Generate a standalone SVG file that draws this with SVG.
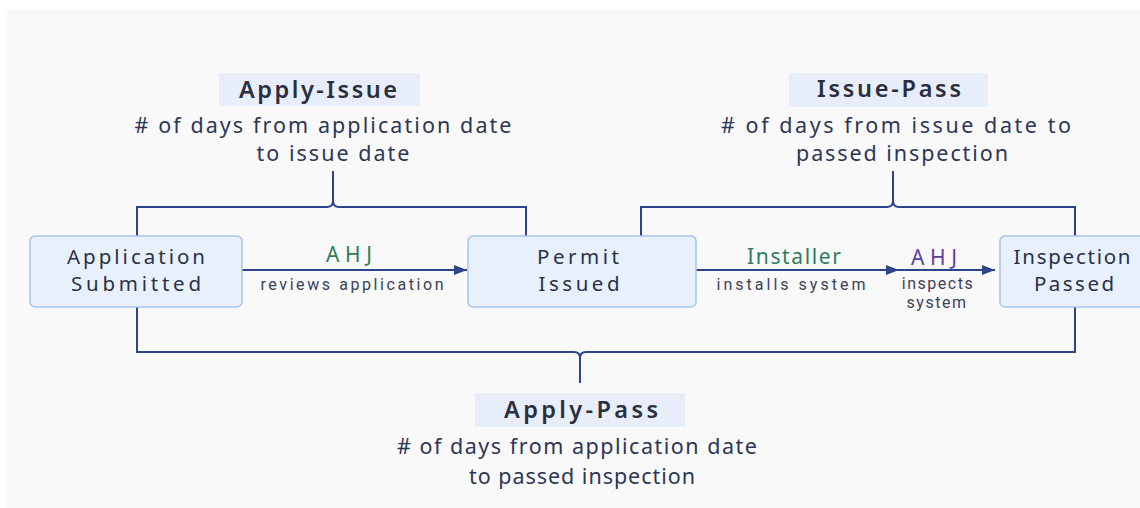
<svg xmlns="http://www.w3.org/2000/svg" width="1140" height="508" viewBox="0 0 1140 508">
<style>
text{font-family:"Noto Sans","Open Sans",sans-serif;fill:#2a3350;text-anchor:middle}
.node rect{fill:#e8f0fb;stroke:#a8c3ec;stroke-width:1.5}
.nt{font-size:20.5px;fill:#283149}
.lbl rect{fill:#e8eef9}
.title{font-size:23.5px;font-weight:600;fill:#2a2f40}
.desc{font-size:21.5px;fill:#2c3656}
.edge{fill:none;stroke:#2c4489;stroke-width:2}
.brace{fill:none;stroke:#2c4489;stroke-width:2}
.green{fill:#2e7d5b;font-size:21px}
.purple{fill:#5a3fa0;font-size:21px}
.sub{font-family:Roboto,"Noto Sans",sans-serif;font-size:16px;fill:#3a4258}
</style>
<defs>
<marker id="arr" markerWidth="13" markerHeight="10" refX="13" refY="5" orient="auto" markerUnits="userSpaceOnUse">
<path d="M0,0 L13,5 L0,10 Z" fill="#2c4489"/>
</marker>
</defs>
<rect x="0" y="0" width="1140" height="508" fill="#ffffff"/>
<rect x="7" y="9" width="1133" height="499" fill="#f9f9fa"/>

<g id="connectors">
<path class="brace" d="M137 236 V207 H327 Q333 207 333 201 V171 M333 201 Q333 207 339 207 H526 V236"/>
<path class="brace" d="M641 236 V207 H887 Q893 207 893 201 V171 M893 201 Q893 207 899 207 H1075 V236"/>
<path class="brace" d="M137 307 V352 H574 Q580 352 580 358 V383 M580 358 Q580 352 586 352 H1075 V307"/>
<line class="edge" x1="242" y1="270" x2="467" y2="270" marker-end="url(#arr)"/>
<line class="edge" x1="696" y1="270" x2="899" y2="270" marker-end="url(#arr)"/>
<line class="edge" x1="899" y1="270" x2="995" y2="270" marker-end="url(#arr)"/>
<text class="green" x="349" y="262" textLength="46" lengthAdjust="spacing">AHJ</text>
<text class="sub" x="352" y="290" textLength="183" lengthAdjust="spacing">reviews application</text>
<text class="green" x="794" y="264" textLength="94" lengthAdjust="spacing">Installer</text>
<text class="sub" x="791" y="290" textLength="149" lengthAdjust="spacing">installs system</text>
<text class="purple" x="934" y="265" textLength="46" lengthAdjust="spacing">AHJ</text>
<text class="sub" style="letter-spacing:1.5px"><tspan x="938" y="289">inspects</tspan><tspan x="937" y="308">system</tspan></text>
</g>

<g id="node-application" class="node">
<rect x="30" y="236" width="212" height="71" rx="5"/>
<text class="nt" x="136" y="264" textLength="138" lengthAdjust="spacing">Application</text>
<text class="nt" x="136" y="291" textLength="130" lengthAdjust="spacing">Submitted</text>
</g>
<g id="node-permit" class="node">
<rect x="468" y="236" width="228" height="71" rx="5"/>
<text class="nt" x="578" y="264" textLength="82" lengthAdjust="spacing">Permit</text>
<text class="nt" x="579" y="291" textLength="81" lengthAdjust="spacing">Issued</text>
</g>
<g id="node-inspection" class="node">
<rect x="1000" y="236" width="150" height="71" rx="5"/>
<text class="nt" x="1072" y="264" textLength="117" lengthAdjust="spacing">Inspection</text>
<text class="nt" x="1074" y="291" textLength="80" lengthAdjust="spacing">Passed</text>
</g>

<g id="label-apply-issue" class="lbl">
<rect x="219" y="73" width="201" height="33"/>
<text class="title" x="318" y="98" textLength="158" lengthAdjust="spacing">Apply-Issue</text>
<text class="desc" x="323" y="133" textLength="377" lengthAdjust="spacing"># of days from application date</text>
<text class="desc" x="333" y="161" textLength="153" lengthAdjust="spacing">to issue date</text>
</g>
<g id="label-issue-pass" class="lbl">
<rect x="789" y="73" width="199" height="34"/>
<text class="title" x="889" y="97" textLength="144" lengthAdjust="spacing">Issue-Pass</text>
<text class="desc" x="896" y="133" textLength="350" lengthAdjust="spacing"># of days from issue date to</text>
<text class="desc" x="902" y="161" textLength="212" lengthAdjust="spacing">passed inspection</text>
</g>
<g id="label-apply-pass" class="lbl">
<rect x="475" y="393" width="210" height="34"/>
<text class="title" x="581" y="418" textLength="154" lengthAdjust="spacing">Apply-Pass</text>
<text class="desc" x="577" y="454" textLength="360" lengthAdjust="spacing"># of days from application date</text>
<text class="desc" x="582" y="484" textLength="226" lengthAdjust="spacing">to passed inspection</text>
</g>
</svg>
